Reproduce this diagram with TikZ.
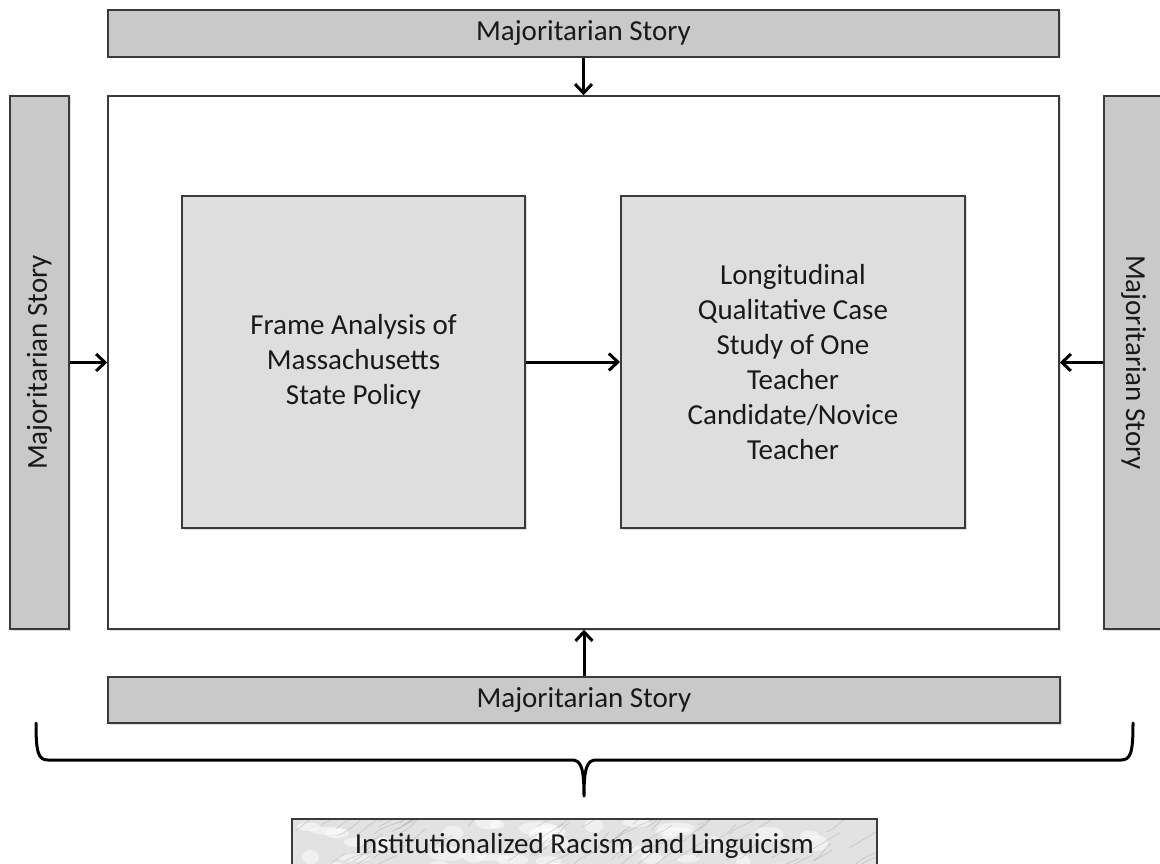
\documentclass[tikz,border=0pt]{standalone}
\usepackage{fontspec}
\setmainfont{Carlito}
\usetikzlibrary{arrows.meta,shadows}
\definecolor{barfill}{HTML}{C9C9C9}
\definecolor{innerfill}{HTML}{DEDEDE}
\definecolor{edge}{HTML}{3A3A3A}
\definecolor{marble}{HTML}{E2E2E2}
\definecolor{vein}{HTML}{A8A8A8}

\begin{document}
\begin{tikzpicture}[x=1pt,y=-1pt,
  every node/.style={font=\fontsize{29}{35}\selectfont, text=black!90,
    align=center, inner sep=0pt},
  softshadow/.style={drop shadow={opacity=0.25, shadow xshift=1.5pt, shadow yshift=-1.5pt}},
  bar/.style={draw=edge, line width=1.5pt, fill=barfill, softshadow},
  frame/.style={draw=edge, line width=1.5pt, fill=white, softshadow},
  inner/.style={draw=edge, line width=2pt, fill=innerfill, softshadow},
  arr/.style={draw=black, line width=3pt, -{Straight Barb[length=9pt,width=17pt]}},
  bracestroke/.style={line width=3pt, line cap=round, line join=round}
]
\useasboundingbox (0,0) rectangle (1160,864);

% outer frame and the four surrounding story bars
\node[frame, minimum width=951pt, minimum height=533pt] (main) at (583.5,362.5) {};
\node[bar, minimum width=951pt, minimum height=47pt] (top) at (583.5,33.5) {Majoritarian Story};
\node[bar, minimum width=952pt, minimum height=46pt] (bottom) at (584,700) {Majoritarian Story};
\node[bar, minimum width=533pt, minimum height=59pt, rotate=90] (left) at (39.5,362.5) {Majoritarian Story};
\node[bar, minimum width=533pt, minimum height=59pt, rotate=-90] (right) at (1133.5,362.5) {Majoritarian Story};

% the two studies inside the frame
\node[inner, minimum width=343pt, minimum height=332pt] (policy) at (353.5,362)
  {Frame Analysis of\\Massachusetts\\State Policy};
\node[inner, minimum width=344pt, minimum height=332pt] (casestudy) at (793,362)
  {Longitudinal\\Qualitative Case\\Study of One\\Teacher\\Candidate/Novice\\Teacher};

% arrows
\draw[arr] (top.south) -- (main.north);
\draw[arr] (bottom.north) -- (bottom.north |- main.south);
\draw[arr] (left.south) -- (left.south -| main.west);
\draw[arr] (right.south) -- (right.south -| main.east);
\draw[arr] (policy.east) -- (casestudy.west);

% brace gathering everything above
\coordinate (braceL) at (36,723);
\coordinate (braceR) at (1133,723);
\coordinate (braceTip) at (584,796);
\draw[bracestroke] (braceL) .. controls (36,752) and (38,760) .. (48,760)
  -- (572,760) .. controls (581,760) and (584,768) .. (braceTip)
  .. controls (584,768) and (587,760) .. (596,760)
  -- (1121,760) .. controls (1131,760) and (1133,752) .. (braceR);

% marbled base box
\fill[marble] (292,819) rectangle (877,873);
\begin{scope}
  \clip (292,819) rectangle (877,873);
  \pgfmathsetseed{7}
  \foreach \i in {1,...,40}{
    \fill[white, opacity=0.5] ({292+rnd*585},{819+rnd*54}) ellipse ({6+rnd*14} and {3+rnd*5});
  }
  \foreach \i in {1,...,80}{
    \draw[vein, line width=0.5pt, opacity=0.6]
      ({292+rnd*585},{819+rnd*54}) .. controls +({6+rnd*8},{-4-rnd*6}) and +({-6},{4}) .. +({14+rnd*18},{-10-rnd*10});
  }
\end{scope}
\node[draw=edge, line width=1.5pt, minimum width=585pt, minimum height=54pt] (racism) at (584.5,846)
  {Institutionalized Racism and Linguicism};
\end{tikzpicture}
\end{document}
